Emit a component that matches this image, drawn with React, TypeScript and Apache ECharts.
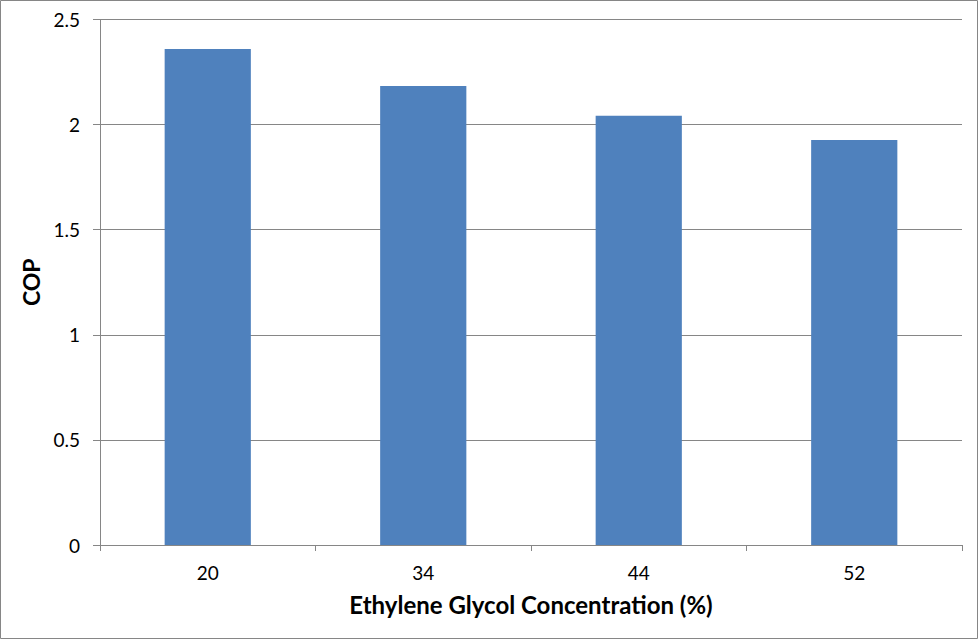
import React, { useEffect, useRef } from "react";
import * as echarts from "echarts";

const categories = ["20", "34", "44", "52"];
const copValues = [2.36, 2.184, 2.042, 1.927];
const yTicks = { min: 0, max: 2.5, interval: 0.5 };

export default function App() {
  const ref = useRef<HTMLDivElement>(null);
  useEffect(() => {
    document.body.style.margin = "0";
    const chart = echarts.init(ref.current!, undefined, { renderer: "svg" });
    chart.setOption({
      animation: false,
      backgroundColor: "#ffffff",
      textStyle: { fontFamily: "Lato, 'Open Sans', sans-serif" },
      grid: { left: 100, right: 16, top: 19.5, bottom: 94 },
      xAxis: {
        type: "category",
        data: categories,
        name: "Ethylene Glycol Concentration (%)",
        nameLocation: "middle",
        nameGap: 47,
        nameTextStyle: { fontSize: 24, fontWeight: "bold", color: "#000" },
        axisLine: { lineStyle: { color: "#868686", width: 1 } },
        axisTick: { show: true, length: 6, lineStyle: { color: "#868686" } },
        axisLabel: { fontSize: 19, color: "#000", margin: 18 },
      },
      yAxis: {
        type: "value",
        min: yTicks.min,
        max: yTicks.max,
        interval: yTicks.interval,
        name: "COP",
        nameLocation: "middle",
        nameGap: 54,
        nameTextStyle: { fontSize: 23, fontWeight: "bold", color: "#000" },
        axisLine: { show: true, lineStyle: { color: "#868686", width: 1 } },
        axisTick: { show: true, length: 7, inside: false, lineStyle: { color: "#868686" } },
        axisLabel: { fontSize: 19, color: "#000", margin: 20 },
        splitLine: { lineStyle: { color: "#868686", width: 1 } },
      },
      series: [
        {
          type: "bar",
          data: copValues,
          barWidth: "40%",
          itemStyle: { color: "#4F81BD" },
        },
      ],
      graphic: [
        {
          type: "rect",
          shape: { x: 0.5, y: 0.5, width: 977, height: 638 },
          style: { fill: "none", stroke: "#868686", lineWidth: 1 },
          silent: true,
        },
      ],
    });
    return () => chart.dispose();
  }, []);
  return (
    <div
      ref={ref}
      style={{ position: "absolute", left: 0, top: 0, width: 978, height: 639 }}
    />
  );
}
